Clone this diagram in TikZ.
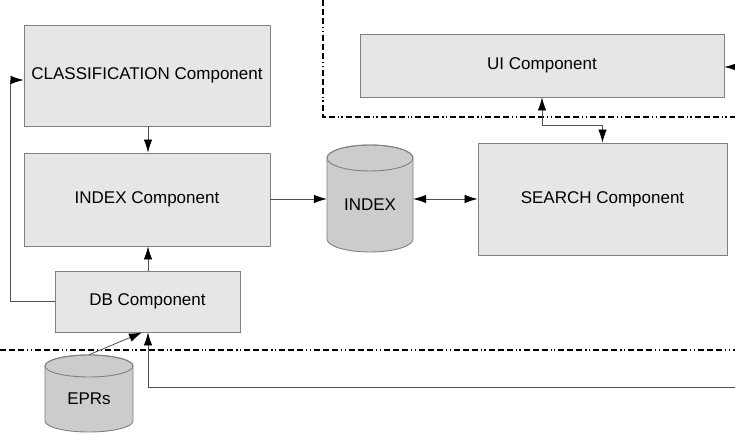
\documentclass[tikz,border=0pt]{standalone}
\usepackage{fontspec}
\setmainfont{Liberation Sans}
\usetikzlibrary{arrows.meta}
\definecolor{boxfill}{HTML}{E6E6E6}
\definecolor{boxline}{HTML}{808080}
\definecolor{cylfill}{HTML}{CCCCCC}
\definecolor{conn}{HTML}{505050}
\tikzset{
  comp/.style={draw=boxline, fill=boxfill, line width=0.9pt, inner sep=0pt, font=\fontsize{17}{20}\selectfont},
  cylnode/.style={inner sep=0pt},
  cyltext/.style={font=\fontsize{17}{20}\selectfont},
  link/.style={draw=conn, line width=0.8pt},
  ah/.tip={Latex[length=13pt,width=8.5pt,black]},
  tip/.style={-ah},
  tips/.style={ah-ah},
  border/.style={line width=2.2pt, dash pattern=on 6pt off 3pt on 6pt off 3pt on 6pt off 3pt on 1.2pt off 2.5pt on 1.2pt off 3pt}
}
\begin{document}
\begin{tikzpicture}[x=1pt,y=1pt]
\useasboundingbox (0,0) rectangle (735,435);
% boundary lines
\draw[border] (323,435) -- (323,318) -- (735,318);
\draw[border] (0,85) -- (735,85);
% components
\node[comp, minimum width=246, minimum height=101] (class) at (147,359.5) {CLASSIFICATION Component};
\node[comp, minimum width=246, minimum height=93] (indexc) at (147,235.5) {INDEX Component};
\node[comp, minimum width=185, minimum height=61] (db) at (147.5,133.5) {DB Component};
\node[comp, minimum width=249, minimum height=112] (search) at (602.5,236) {SEARCH Component};
\node[comp, minimum width=364, minimum height=63] (ui) at (542,369.5) {UI Component};
% INDEX cylinder
\filldraw[draw=boxline, fill=cylfill, line width=0.9pt] (327,277) -- (327,196) arc[start angle=180,end angle=360,x radius=43,y radius=13] -- (413,277) arc[start angle=0,end angle=180,x radius=43,y radius=13] -- cycle;
\draw[boxline, line width=0.9pt] (370,277) ellipse [x radius=43, y radius=13];
\node[cylnode, minimum width=86, minimum height=107] (icyl) at (370,236.5) {};
\node[cyltext] (icyltxt) at (370,230) {INDEX};
% EPRs cylinder
\filldraw[draw=boxline, fill=cylfill, line width=0.9pt] (45,69) -- (45,14) arc[start angle=180,end angle=360,x radius=44,y radius=11] -- (133,69) arc[start angle=0,end angle=180,x radius=44,y radius=11] -- cycle;
\draw[boxline, line width=0.9pt] (89,69) ellipse [x radius=44, y radius=11];
\node[cylnode, minimum width=88, minimum height=77] (eprs) at (89,41.5) {};
\node[cyltext] (eprstxt) at (89,36) {EPRs};
% connectors
\coordinate (uiin) at (735,368);
\coordinate (rin) at (735,48);
\draw[link, tip] (uiin) -- (ui.east |- uiin);
\draw[link, tips] (ui.south) -- ++(0,-28) -| (search.north);
\draw[link, tip] (indexc.east |- 0,236) -- (icyl.west |- 0,236);
\draw[link, tips] (icyl.east |- 0,236) -- (search.west |- 0,236);
\draw[link, tip] (class.south -| 148,0) -- (indexc.north -| 148,0);
\draw[link, tip] (db.north -| 148,0) -- (indexc.south -| 148,0);
\draw[link, tip] (db.west) -- (10,133.5) |- ([yshift=-4.5pt]class.west);
\draw[link, tip] (eprs.north) -- (142,102.5);
\draw[link, tip] (rin) -| (db.south -| 148,0);
\end{tikzpicture}
\end{document}
